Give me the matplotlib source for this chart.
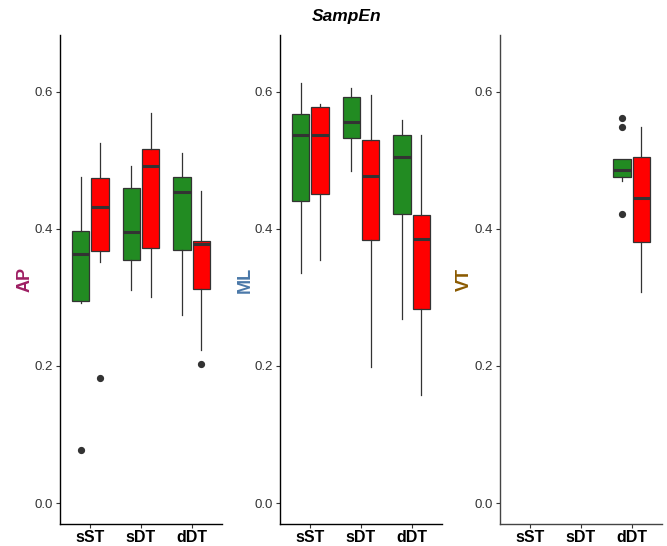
import matplotlib
matplotlib.use("Agg")
import matplotlib.pyplot as plt

plt.rcParams["font.family"] = ["Liberation Sans", "DejaVu Sans"]

conditions = ["sST", "sDT", "dDT"]
groups = ["green", "red"]
group_colors = {"green": "#228B22", "red": "#FF0000"}

# five-number summaries per condition: (whislo, q1, med, q3, whishi)
ap_green = [(0.292, 0.294, 0.363, 0.397, 0.476),
            (0.311, 0.355, 0.395, 0.460, 0.491),
            (0.274, 0.369, 0.453, 0.475, 0.510)]
ap_red = [(0.352, 0.367, 0.431, 0.474, 0.525),
          (0.301, 0.372, 0.492, 0.516, 0.569),
          (0.223, 0.312, 0.378, 0.382, 0.455)]
ap_green_out = [[0.077], [], []]
ap_red_out = [[0.182], [], [0.203]]

ml_green = [(0.335, 0.440, 0.536, 0.568, 0.612),
            (0.484, 0.533, 0.556, 0.592, 0.605),
            (0.269, 0.422, 0.504, 0.537, 0.559)]
ml_red = [(0.354, 0.450, 0.536, 0.578, 0.582),
          (0.199, 0.384, 0.477, 0.530, 0.595),
          (0.158, 0.283, 0.385, 0.420, 0.537)]
ml_green_out = [[], [], []]
ml_red_out = [[], [], []]

vt_green = [None, None, (0.470, 0.475, 0.485, 0.502, 0.502)]
vt_red = [None, None, (0.308, 0.380, 0.445, 0.505, 0.548)]
vt_green_out = [[], [], [0.561, 0.548, 0.422]]
vt_red_out = [[], [], []]

panels = [
    ("AP", "#9E1F63", ap_green, ap_red, ap_green_out, ap_red_out),
    ("ML", "#4A78A8", ml_green, ml_red, ml_green_out, ml_red_out),
    ("VT", "#8B5A00", vt_green, vt_red, vt_green_out, vt_red_out),
]

y_ticks = [0.0, 0.2, 0.4, 0.6]
y_tick_labels = ["0.0", "0.2", "0.4", "0.6"]

W, H = 667, 546
fig = plt.figure(figsize=(W / 100, H / 100), dpi=100)

panel_lefts = [60, 280, 500]
panel_width = 162
top_px, bottom_px = 35, 524
offset = 0.19
box_w = 0.34
edge = "#333333"


def make_stats(summary, fliers):
    lo, q1, med, q3, hi = summary
    return {"whislo": lo, "q1": q1, "med": med, "q3": q3, "whishi": hi, "fliers": fliers}


for (label, lcolor, green, red, gout, rout), left in zip(panels, panel_lefts):
    ax = fig.add_axes([left / W, 1 - bottom_px / H, panel_width / W, (bottom_px - top_px) / H])
    for summaries, outs, shift, grp in [(green, gout, -offset, "green"), (red, rout, offset, "red")]:
        stats, pos = [], []
        for i, s in enumerate(summaries):
            if s is None:
                continue
            stats.append(make_stats(s, outs[i]))
            pos.append(i + 1 + shift)
        if not stats:
            continue
        ax.bxp(stats, positions=pos, widths=box_w, patch_artist=True, showcaps=False,
               boxprops=dict(facecolor=group_colors[grp], edgecolor=edge, linewidth=0.9),
               whiskerprops=dict(color=edge, linewidth=0.9),
               medianprops=dict(color=edge, linewidth=2.2),
               flierprops=dict(marker="o", markerfacecolor=edge, markeredgecolor=edge,
                               markersize=4.2))
    ax.set_xlim(0.4, 3.6)
    ax.set_ylim(-0.0305, 0.6825)
    ax.set_xticks([1, 2, 3])
    ax.set_xticklabels(conditions, fontsize=11.5, fontweight="bold", color="black")
    ax.set_yticks(y_ticks)
    ax.set_yticklabels(y_tick_labels, fontsize=9.5, color="#333333")
    ax.tick_params(axis="both", length=3, width=0.8, color="#333333", pad=2)
    ax.tick_params(axis="x", pad=1)
    for side in ["top", "right"]:
        ax.spines[side].set_visible(False)
    spine_color = "black" if label != "VT" else "#444444"
    for side in ["left", "bottom"]:
        ax.spines[side].set_color(spine_color)
        ax.spines[side].set_linewidth(1.0)
    ax.set_ylabel(label, fontsize=13, fontweight="bold", color=lcolor, labelpad=1)
    ax.patch.set_alpha(0)

fig.text(347 / W, 1 - 17 / H, "SampEn", fontsize=12.5, fontweight="bold",
         fontstyle="italic", ha="center", va="center")

fig.savefig("out.png", dpi=100)
